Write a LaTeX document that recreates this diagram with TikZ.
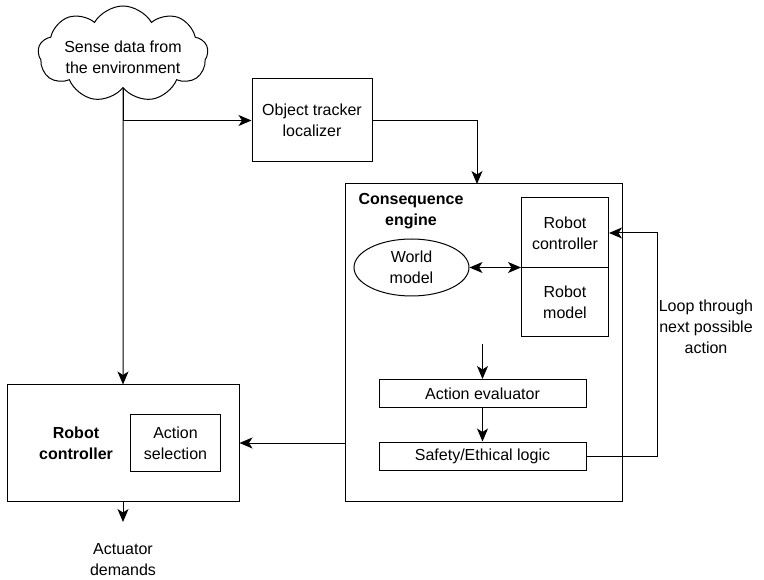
\documentclass[tikz,border=0pt]{standalone}
\usepackage{fontspec}
\setmainfont{Liberation Sans}
\usetikzlibrary{shapes.geometric,shapes.symbols,arrows.meta}
\begin{document}
\begin{tikzpicture}[x=1pt,y=-1pt,
  every node/.style={font=\fontsize{16}{21}\selectfont, align=center, inner sep=0pt},
  box/.style={draw, line width=1pt, rectangle},
  conn/.style={line width=1pt, -{Stealth[length=13pt,width=11pt,inset=3.5pt]}},
  plain/.style={line width=1pt},
  boldtxt/.style={font=\fontsize{16}{21}\selectfont\bfseries}]
\useasboundingbox (0,0) rectangle (764,580);
% cloud
\node[draw, line width=1pt, cloud, cloud puffs=9, cloud puff arc=120, minimum width=170pt, minimum height=96pt] (cloud) at (123,54) {};
\node (cloudtxt) at (123,57) {Sense data from\\the environment};
% object tracker
\node[box, minimum width=120pt, minimum height=83pt] (obj) at (312,120.5) {Object tracker\\localizer};
% consequence engine
\node[box, minimum width=277pt, minimum height=317pt] (ce) at (483.5,342.5) {};
\node[boldtxt] (cetxt) at (411,211) {Consequence\\engine};
\node[draw, line width=1pt, ellipse, minimum width=115pt, minimum height=57pt] (wm) at (411.5,267.5) {World\\model};
\node[box, minimum width=87pt, minimum height=70pt] (rc) at (565,233) {Robot\\controller};
\node[box, minimum width=87pt, minimum height=69pt] (rm) at (565,302.5) {Robot\\model};
\node[box, minimum width=207pt, minimum height=28pt] (ae) at (482.5,393.5) {Action evaluator};
\node[box, minimum width=207pt, minimum height=28pt] (se) at (482.5,456) {Safety/Ethical logic};
% loop label
\node (looptxt) at (706,327) {Loop through\\next possible\\action};
% left robot controller
\node[box, minimum width=232pt, minimum height=116pt] (rcl) at (123,443) {};
\node[boldtxt] (rcltxt) at (76,443.5) {Robot\\controller};
\node[box, minimum width=90pt, minimum height=57pt] (as) at (175.5,443) {Action\\selection};
\node (act) at (123,560) {Actuator\\demands};
% coordinates
\coordinate (cetop) at (477,184);
\coordinate (aestart) at (482.5,344);
\coordinate (loopx) at (657,0);
\coordinate (actend) at (123,522);
% connectors
\draw[plain] (cloud.south) -- (cloud.south |- obj.west);
\draw[conn] (cloud.south |- obj.west) -- (obj.west);
\draw[conn] (cloud.south) -- (rcl.north);
\draw[conn] (obj.east) -| (cetop);
\draw[line width=1pt, {Stealth[length=13pt,width=11pt,inset=3.5pt]}-{Stealth[length=13pt,width=11pt,inset=3.5pt]}] (wm.east) -- (wm.east -| rc.west);
\draw[conn] (aestart) -- (ae.north);
\draw[conn] (ae.south) -- (se.north);
\draw[conn] (se.east) -| (loopx |- rc.east) -- (rc.east);
\draw[conn] (ce.west |- rcl.east) -- (rcl.east);
\draw[conn] (rcl.south) -- (actend);
\end{tikzpicture}
\end{document}
